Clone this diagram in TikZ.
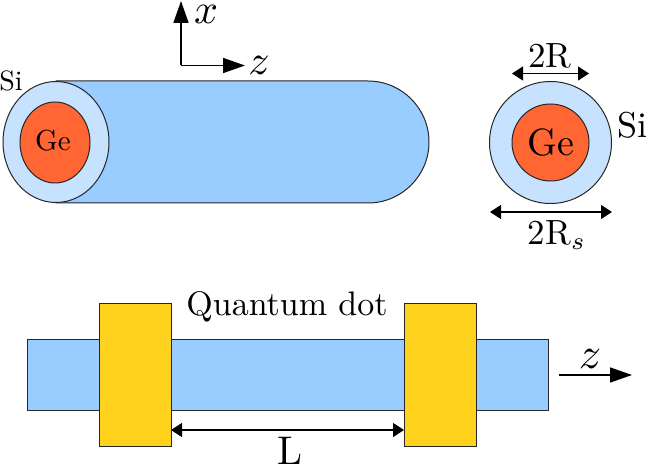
\documentclass[tikz,border=0pt]{standalone}
\usetikzlibrary{arrows.meta}
\definecolor{wire}{HTML}{99CCFF}
\definecolor{shell}{HTML}{C6E2FF}
\definecolor{core}{HTML}{FF6633}
\definecolor{gate}{HTML}{FFD21E}
\newcommand{\fs}[2]{\scalebox{#1}{#2}}
\tikzset{
  solid part/.style={draw=black!85,line width=1pt},
  axis/.style={line width=1.6pt,-{Triangle[length=22pt,width=15pt]}},
  dim/.style={line width=1.1pt,{Triangle[length=11pt,width=14pt]}-{Triangle[length=11pt,width=14pt]}},
  lab/.style={inner sep=0pt,anchor=center}
}
\begin{document}
\begin{tikzpicture}[x=1pt,y=-1pt]
\useasboundingbox (0,0) rectangle (648,465);
% cylinder
\draw[solid part,fill=wire] (56,81) -- (368,81) arc[start angle=-90,end angle=90,radius=61] -- (56,203) -- cycle;
\draw[solid part,fill=shell] (56,142) ellipse[x radius=53,y radius=60.5];
\draw[solid part,fill=core] (55,142.5) ellipse[x radius=35,y radius=40.5];
\node[lab] (geL) at (53,141) {\fs{2.9}{Ge}};
\node[lab] (siL) at (11,81) {\fs{2.8}{Si}};
% axes
\coordinate (o) at (181,65.5);
\coordinate (xEnd) at (181,1);
\coordinate (zEnd) at (245,65.5);
\draw[axis] (o) -- (xEnd);
\draw[axis] (o) -- (zEnd);
\node[lab] (xL) at (206,14) {\fs{4.2}{$x$}};
\node[lab] (zL) at (259,65) {\fs{4.2}{$z$}};
% cross-section
\draw[solid part,fill=shell] (550.5,142.5) circle[radius=61];
\draw[solid part,fill=core] (550.5,142.5) circle[radius=38.5];
\node[lab] (geR) at (551,143) {\fs{3.8}{Ge}};
\node[lab] (siR) at (632.5,125) {\fs{3.6}{Si}};
\coordinate (a1) at (512,73.5);
\coordinate (a2) at (589,73.5);
\coordinate (b1) at (490,212);
\coordinate (b2) at (612,212);
\draw[dim] (a1) -- (a2);
\draw[dim] (b1) -- (b2);
\node[lab] (r) at (550,56) {\fs{3.5}{2R}};
\node[lab] (rs) at (557,235) {\fs{3.5}{2R$_s$}};
% device
\draw[solid part,fill=wire] (27,339) rectangle (548,410);
\draw[solid part,fill=gate] (99,303) rectangle (171,446);
\draw[solid part,fill=gate] (404,303) rectangle (476,446);
\node[lab] (qd) at (287,307) {\fs{3.4}{Quantum dot}};
\coordinate (l1) at (171,430);
\coordinate (l2) at (404,430);
\draw[dim] (l1) -- (l2);
\node[lab] (L) at (290,451) {\fs{4}{L}};
\coordinate (z1) at (559,375);
\coordinate (z2) at (632,375);
\draw[axis] (z1) -- (z2);
\node[lab] (z3) at (590,359) {\fs{4.4}{$z$}};
\end{tikzpicture}
\end{document}
